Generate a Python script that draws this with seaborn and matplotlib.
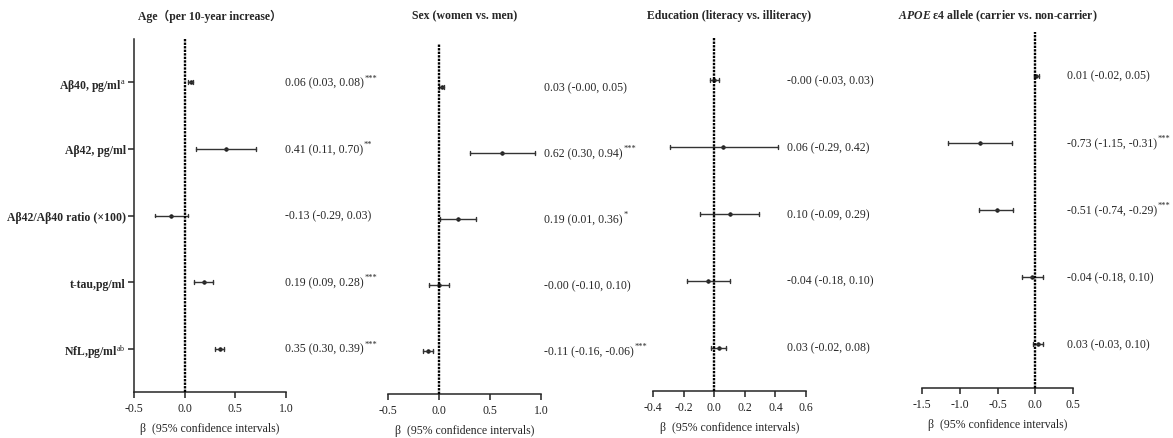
import pandas as pd
import matplotlib
matplotlib.use("Agg")
import matplotlib.pyplot as plt
import seaborn as sns

# Outcome labels (rows, top to bottom)
outcomes = ["Aβ40, pg/ml$^{\\mathrm{a}}$", "Aβ42, pg/ml", "Aβ42/Aβ40 ratio (×100)",
            "t-tau,pg/ml", "NfL,pg/ml$^{\\mathrm{ab}}$"]

# Age (per 10-year increase)
age_beta = [0.06, 0.41, -0.13, 0.19, 0.35]
age_low = [0.03, 0.11, -0.29, 0.09, 0.30]
age_high = [0.08, 0.70, 0.03, 0.28, 0.39]
age_sig = ["***", "**", "", "***", "***"]

# Sex (women vs. men)
sex_beta = [0.03, 0.62, 0.19, -0.0, -0.11]
sex_low = [-0.0, 0.30, 0.01, -0.10, -0.16]
sex_high = [0.05, 0.94, 0.36, 0.10, -0.06]
sex_sig = ["", "***", "*", "", "***"]

# Education (literacy vs. illiteracy)
edu_beta = [-0.0, 0.06, 0.10, -0.04, 0.03]
edu_low = [-0.03, -0.29, -0.09, -0.18, -0.02]
edu_high = [0.03, 0.42, 0.29, 0.10, 0.08]
edu_sig = ["", "", "", "", ""]

# APOE e4 allele (carrier vs. non-carrier)
apoe_beta = [0.01, -0.73, -0.51, -0.04, 0.03]
apoe_low = [-0.02, -1.15, -0.74, -0.18, -0.03]
apoe_high = [0.05, -0.31, -0.29, 0.10, 0.10]
apoe_sig = ["", "***", "***", "", ""]

titles = ["Age（per 10-year increase）", "Sex (women vs. men)",
          "Education (literacy vs. illiteracy)",
          "$\\mathbfit{APOE}$ ε4 allele (carrier vs. non-carrier)"]
xlims = [(-0.5, 1.0), (-0.5, 1.0), (-0.4, 0.6), (-1.5, 0.5)]
xticks = [[-0.5, 0.0, 0.5, 1.0], [-0.5, 0.0, 0.5, 1.0],
          [-0.4, -0.2, 0.0, 0.2, 0.4, 0.6], [-1.5, -1.0, -0.5, 0.0, 0.5]]

sns.set_style("ticks")
plt.rcParams['font.family'] = ['Liberation Serif', 'Noto Sans CJK SC']
plt.rcParams['mathtext.fontset'] = 'custom'
plt.rcParams['mathtext.rm'] = 'Liberation Serif'
plt.rcParams['mathtext.it'] = 'Liberation Serif:italic'
plt.rcParams['mathtext.bf'] = 'Liberation Serif:bold'
plt.rcParams['mathtext.bfit'] = 'Liberation Serif:italic:bold'

W, H = 1173, 439
fig = plt.figure(figsize=(W / 100, H / 100), dpi=100)

# axes boxes in pixels: left, right, top, bottom
boxes = [(134, 286, 40, 393), (388, 541, 45, 395), (653, 806, 38, 392), (922, 1073, 33, 389)]
text_x = [285, 544, 787, 1067]

panels = [(age_beta, age_low, age_high, age_sig),
          (sex_beta, sex_low, sex_high, sex_sig),
          (edu_beta, edu_low, edu_high, edu_sig),
          (apoe_beta, apoe_low, apoe_high, apoe_sig)]

for i, (beta, low, high, sig) in enumerate(panels):
    l, r, t, b = boxes[i]
    ax = fig.add_axes([l / W, 1 - b / H, (r - l) / W, (b - t) / H])

    # long table: low, estimate, high per outcome -> median = beta, range = CI
    rows = []
    for k, name in enumerate(outcomes):
        for v in (low[k], beta[k], high[k]):
            rows.append({"outcome": name, "value": v})
    df = pd.DataFrame(rows)

    sns.pointplot(data=df, x="value", y="outcome", estimator="median",
                  errorbar=lambda v: (v.min(), v.max()), capsize=0.06,
                  linestyle="none", marker="o", markersize=2.6, markeredgewidth=0.5,
                  color="#1a1a1a",
                  err_kws={"linewidth": 1.0, "color": "#333333"}, ax=ax)

    ax.axvline(0, color="black", linewidth=1.7, linestyle=(0, (1.0, 0.5)), zorder=5)
    ax.set_xlim(*xlims[i])
    ax.set_ylim(4.65, -0.65)
    ax.set_xticks(xticks[i])
    ax.set_xticklabels([f"{v:.1f}" for v in xticks[i]], fontsize=8.5)
    ax.tick_params(axis="x", direction="out", length=4, width=1.1, pad=3, colors="#222222")
    ax.set_xlabel("β  (95% confidence intervals)", fontsize=8.5, labelpad=6)
    ax.set_ylabel("")
    sns.despine(ax=ax, top=True, right=True, left=(i != 0))
    ax.spines["bottom"].set_linewidth(1.1)
    ax.spines["left"].set_linewidth(1.1)
    if i == 0:
        ax.set_yticks(range(len(outcomes)))
        ax.set_yticklabels(outcomes, fontweight="bold", fontsize=8.5)
        ax.tick_params(axis="y", direction="out", length=4, width=1.1, pad=2)
    else:
        ax.set_yticks([])

    # estimate text on the right
    for k in range(len(outcomes)):
        x_ax = (text_x[i] - l) / (r - l)
        txt = ax.text(x_ax, k, f"{beta[k]:.2f} ({low[k]:.2f}, {high[k]:.2f})",
                      transform=ax.get_yaxis_transform(), ha="left", va="center",
                      fontsize=8.5, clip_on=False)
        if sig[k]:
            ax.annotate(sig[k], xy=(1, 1), xycoords=txt, xytext=(0.5, 2),
                        textcoords="offset points", ha="left", va="top", fontsize=6)

    pos = ax.get_position()
    fig.text(pos.x0 + pos.width / 2, 0.963, titles[i], ha="center", va="center",
             fontweight="bold", fontsize=8.5)

fig.savefig("out.png", dpi=100)
